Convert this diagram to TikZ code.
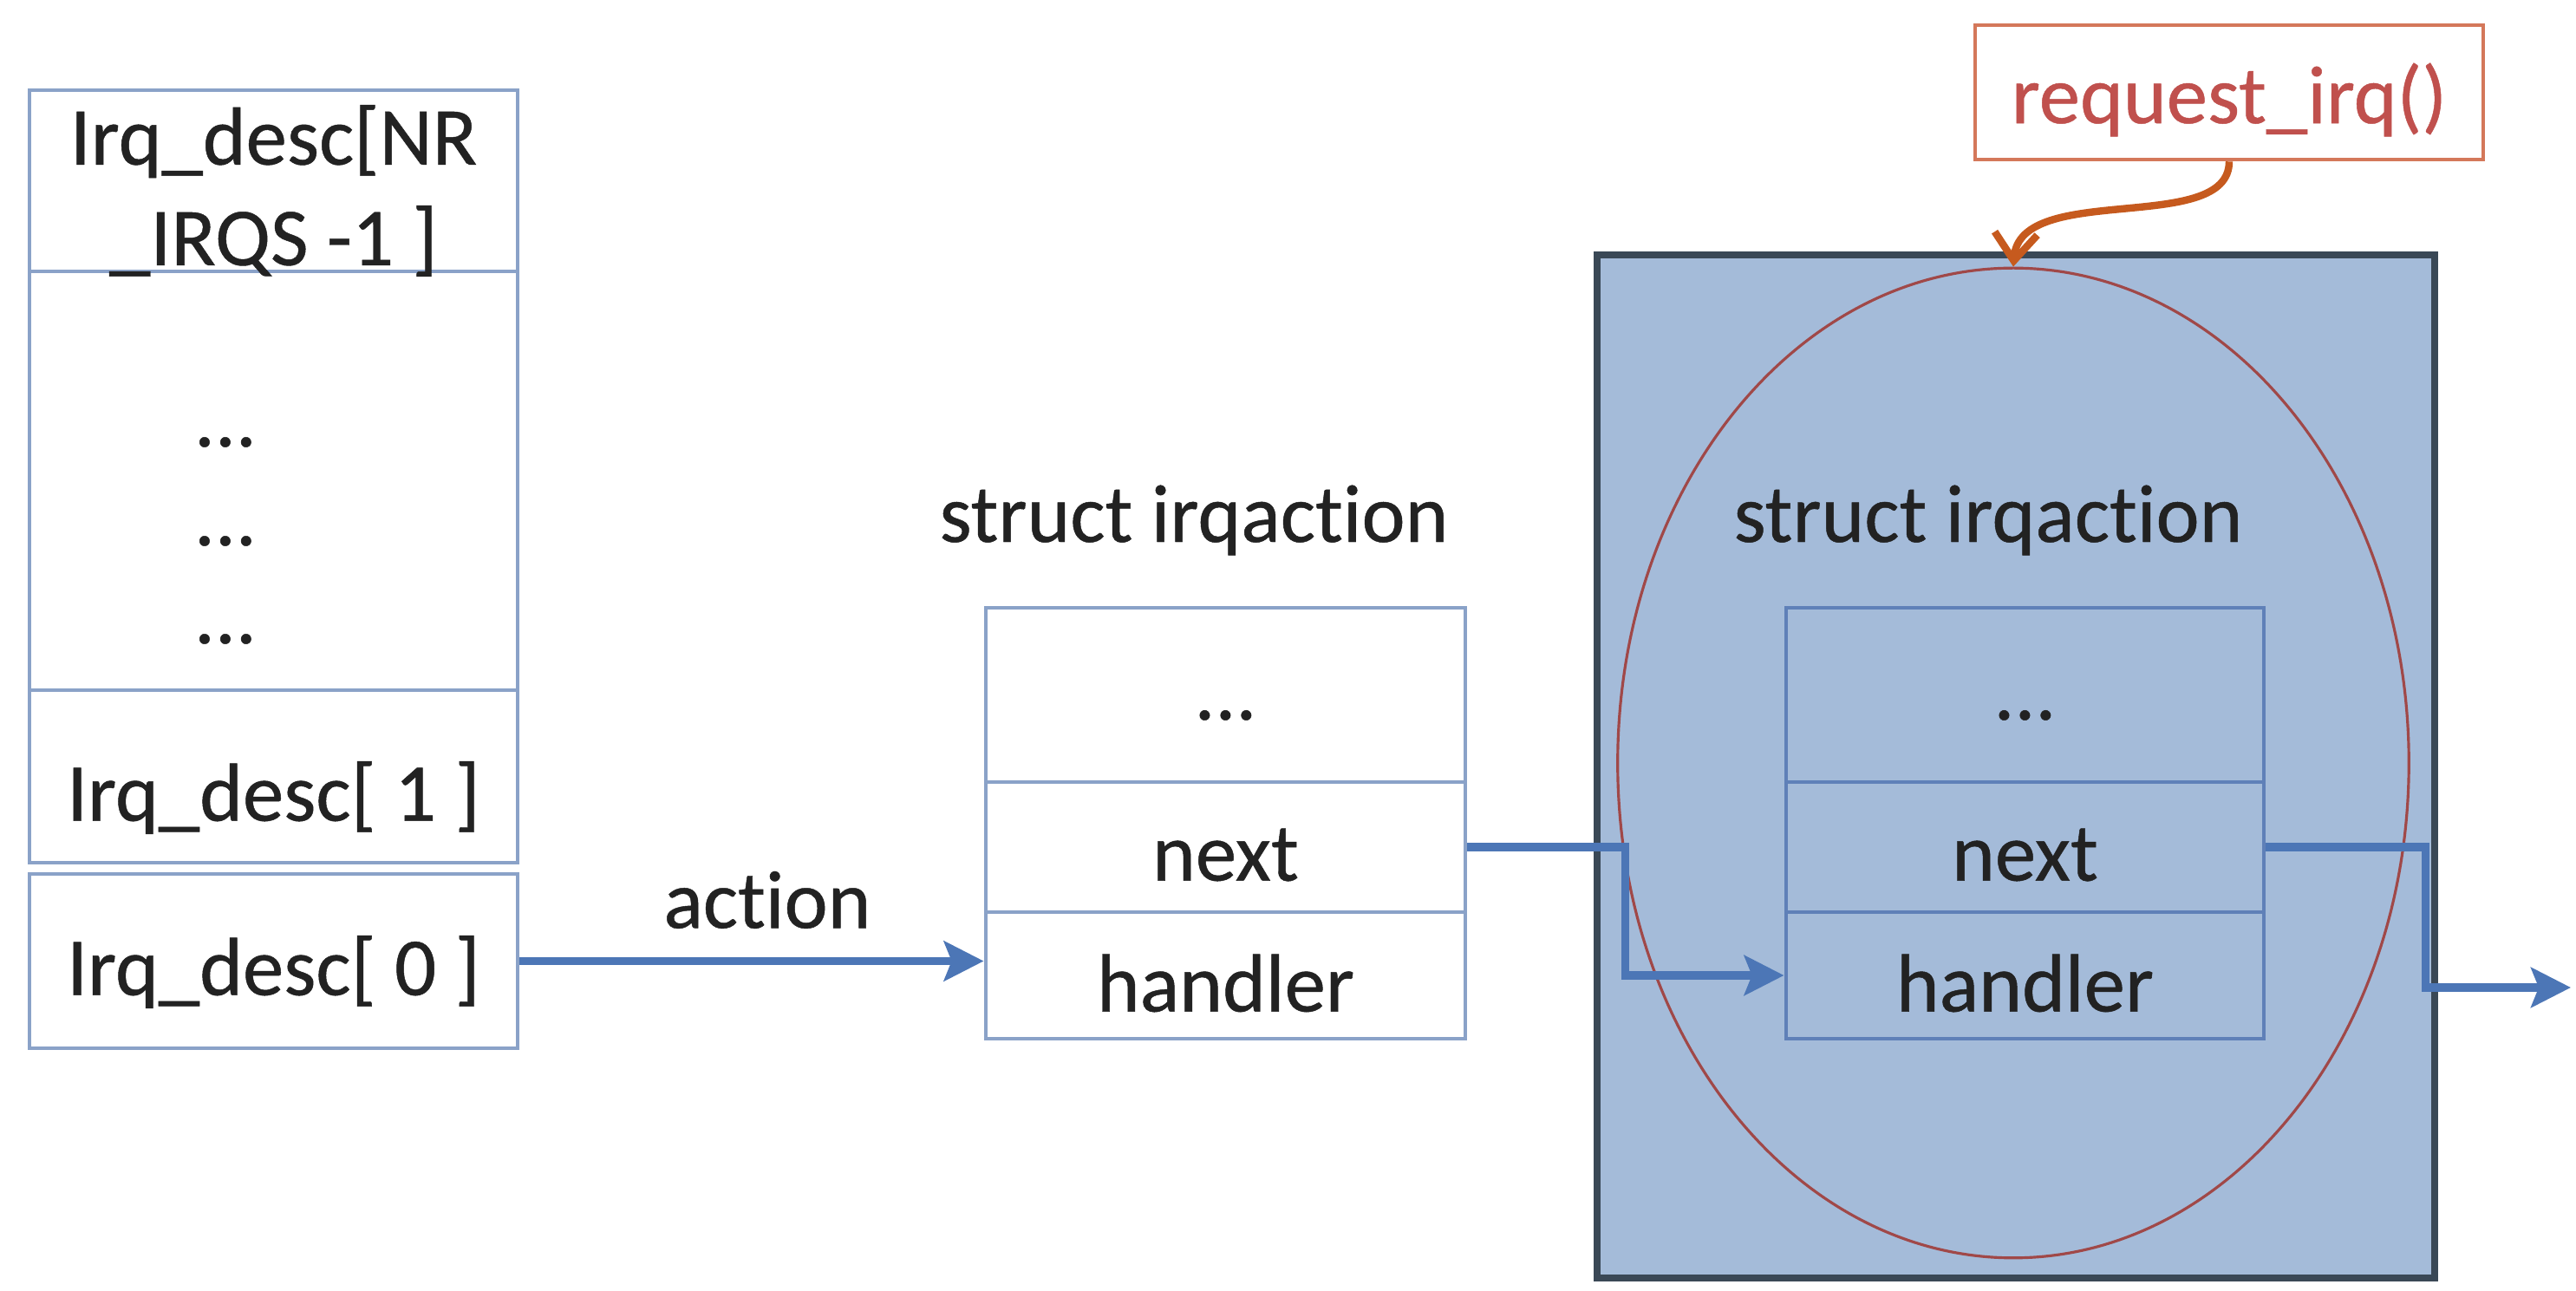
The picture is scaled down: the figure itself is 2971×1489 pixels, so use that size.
\documentclass[tikz,border=0pt]{standalone}
\usepackage{fontspec}
\setmainfont{Carlito}[Ligatures=NoCommon, FakeBold=0.5]
\usetikzlibrary{arrows.meta,shapes.geometric}
\definecolor{cellline}{HTML}{8AA2C8}
\definecolor{arrowblue}{HTML}{4C76B6}
\definecolor{bigfill}{HTML}{A4BBD9}
\definecolor{bigline}{HTML}{3A4856}
\definecolor{innerline}{HTML}{5F80B8}
\definecolor{ellline}{HTML}{A04848}
\definecolor{reqline}{HTML}{D4785A}
\definecolor{reqtext}{HTML}{C0504D}
\definecolor{reqcurve}{HTML}{C65A1E}
\definecolor{txt}{HTML}{222222}
\begin{document}
\begin{tikzpicture}[x=0.01cm,y=-0.01cm,
  font=\fontsize{27}{33}\selectfont, text=txt,
  cell/.style={draw=cellline, line width=1.3pt, inner sep=0pt},
  icell/.style={draw=innerline, line width=1.3pt, inner sep=0pt},
  ptr/.style={draw=arrowblue, line width=2.8pt, -{Stealth[length=13pt,width=13pt,inset=2.5pt]}},
  lbl/.style={inner sep=0pt, align=center}]
\fill[white] (0,0) rectangle (2971,1489);
\useasboundingbox (0,0) rectangle (2971,1489);
% left column
\node[cell, minimum width=5.63cm, minimum height=2.09cm] (nr) at (315.5,208.5) {};
\node[cell, minimum width=5.63cm, minimum height=4.83cm] (mid) at (315.5,554.5) {};
\node[lbl] (nrt) at (315.5,220) {Irq\_desc[NR\\\_IRQS -1 ]};
\node[lbl, anchor=base] (d1) at (260,515) {...};
\node[lbl, anchor=base] (d2) at (260,629) {...};
\node[lbl, anchor=base] (d3) at (260,742) {...};
\node[cell, minimum width=5.63cm, minimum height=1.99cm] (one) at (315.5,895.5) {};
\node[lbl] (onet) at (315.5,920) {Irq\_desc[ 1 ]};
\node[cell, minimum width=5.63cm, minimum height=2.01cm] (zero) at (315.5,1108.5) {};
\node[lbl] (zerot) at (315.5,1121) {Irq\_desc[ 0 ]};
% middle struct
\node[lbl] (t1) at (1377,600) {struct irqaction};
\node[cell, minimum width=5.53cm, minimum height=2.01cm] (m1) at (1413.5,801.5) {};
\node[lbl, anchor=base] (m1d) at (1413.5,830) {...};
\node[cell, minimum width=5.53cm, minimum height=1.50cm] (n1) at (1413.5,977) {};
\node[lbl] (n1t) at (1413.5,986) {next};
\node[cell, minimum width=5.53cm, minimum height=1.46cm] (h1) at (1413.5,1125) {};
\node[lbl] (h1t) at (1413.5,1134) {handler};
% right frame
\node[draw=bigline, fill=bigfill, line width=2.2pt, minimum width=9.66cm, minimum height=11.80cm, inner sep=0pt] (frame) at (2325,884) {};
\node[ellipse, draw=ellline, line width=0.9pt, minimum width=9.12cm, minimum height=11.41cm, inner sep=0pt] (ell) at (2322,880) {};
\node[lbl] (t2) at (2293,600) {struct irqaction};
\node[icell, minimum width=5.51cm, minimum height=2.01cm] (m2) at (2335.5,801.5) {};
\node[lbl, anchor=base] (m2d) at (2335.5,830) {...};
\node[icell, minimum width=5.51cm, minimum height=1.50cm] (n2) at (2335.5,977) {};
\node[lbl] (n2t) at (2335.5,986) {next};
\node[icell, minimum width=5.51cm, minimum height=1.46cm] (h2) at (2335.5,1125) {};
\node[lbl] (h2t) at (2335.5,1134) {handler};
% request_irq
\node[draw=reqline, line width=1.3pt, minimum width=5.86cm, minimum height=1.55cm, inner sep=0pt] (req) at (2571,106.5) {};
\node[lbl, text=reqtext] (reqt) at (2571,115) {request\_irq()};
\draw[draw=reqcurve, line width=2.4pt, -{Straight Barb[length=9pt,width=14pt]}] (req.south) .. controls +(0,86) and +(8,-99) .. (ell.north);
% connectors
\coordinate (out) at (2965,1139);
\draw[ptr] (zero.east) -- (zero.east -| h1.west);
\node[lbl] (act) at (885,1038) {action};
\draw[ptr] (n1.east) -- ++(182,0) |- (h2.west);
\draw[ptr] (n2.east) -- ++(184,0) |- (out);
\end{tikzpicture}
\end{document}
